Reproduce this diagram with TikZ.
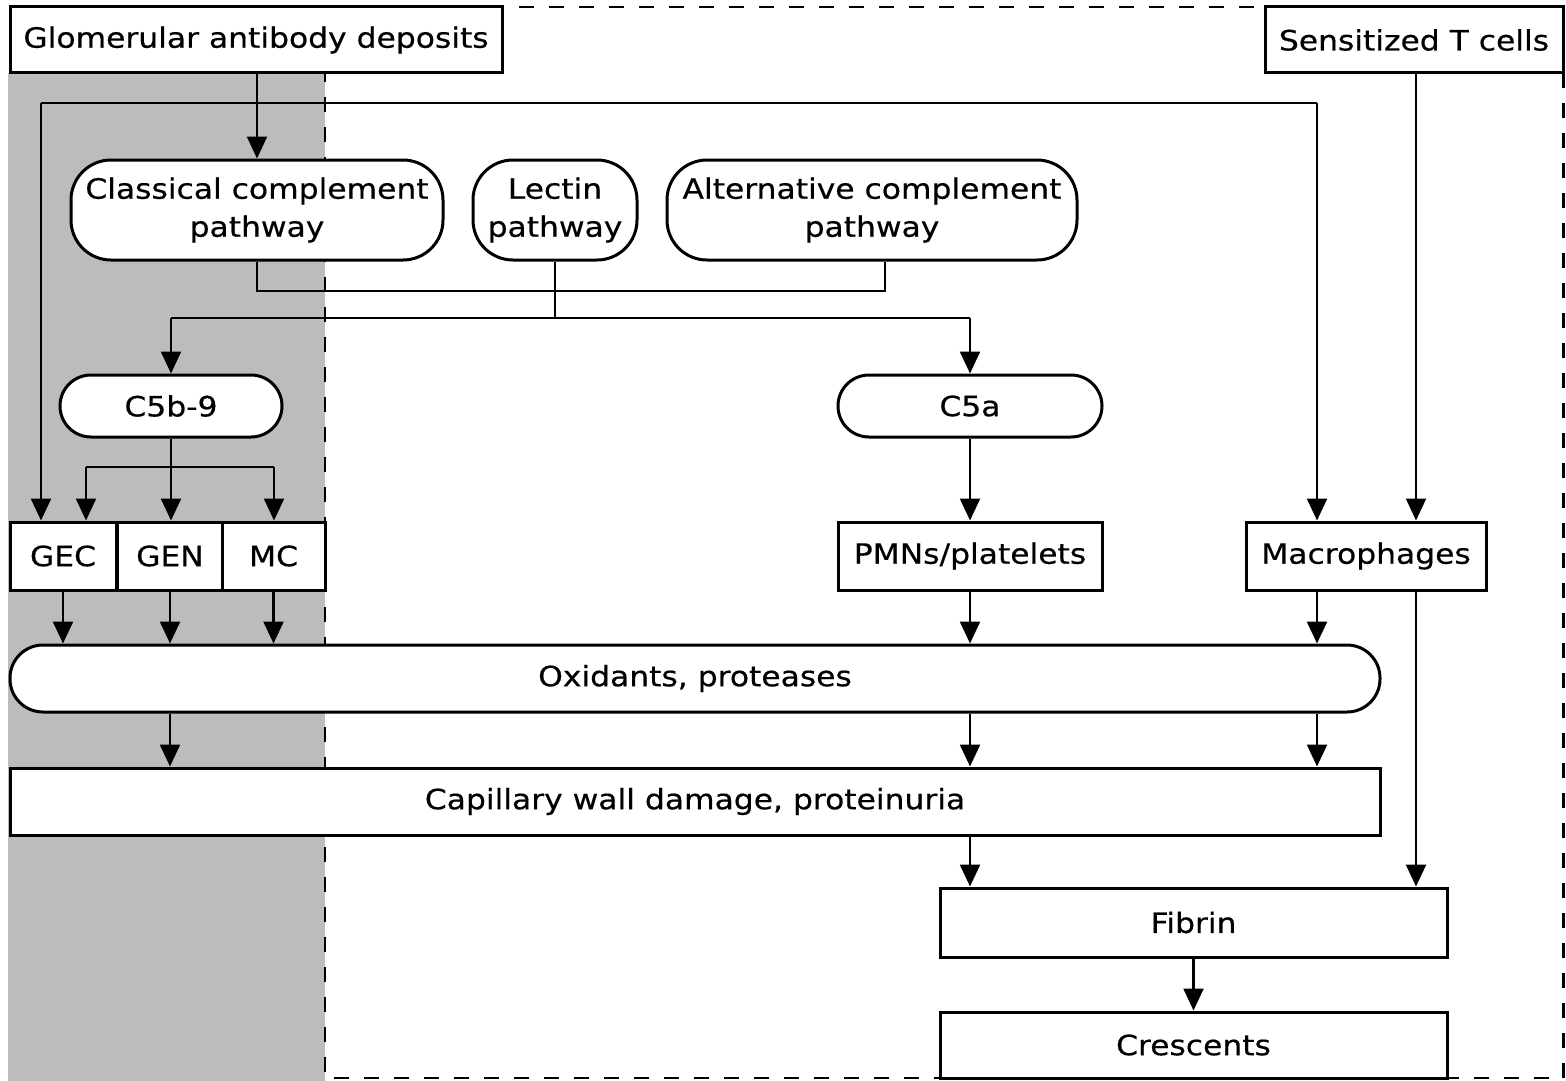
\documentclass[tikz,border=0pt]{standalone}
\usepackage{fontspec}
\setmainfont[FakeStretch=1.12,FakeBold=0.5]{DejaVu Sans}
\usetikzlibrary{arrows.meta,calc}
\definecolor{graybg}{HTML}{BCBCBC}
\begin{document}
\begin{tikzpicture}[x=1pt,y=-1pt,
  box/.style={draw, line width=3pt, fill=white, inner sep=0pt, align=center,
    font=\fontsize{28}{38}\selectfont},
  pill/.style={box, rounded corners=#1},
  pill/.default=31pt,
  arr/.style={line width=2.4pt, -{Triangle[width=20pt,length=22pt]}},
  ln/.style={line width=2.4pt}]
\useasboundingbox (0,0) rectangle (1566,1081);
% background regions
\fill[graybg] (8,73) rectangle (325,1081);
\draw[line width=2.6pt, dash pattern=on 15pt off 15pt] (325,7) rectangle (1563.5,1078);
% nodes
\node[box, minimum width=492pt, minimum height=66pt] (glom) at (256,40) {Glomerular antibody deposits};
\node[box, minimum width=298pt, minimum height=66pt] (tcell) at (1414,40) {Sensitized T cells};
\node[pill=40pt, minimum width=372pt, minimum height=100pt] (classical) at (257,210) {Classical complement\\pathway};
\node[pill=40pt, minimum width=164pt, minimum height=100pt] (lectin) at (555,210) {Lectin\\pathway};
\node[pill=40pt, minimum width=410pt, minimum height=100pt] (alt) at (872,210) {Alternative complement\\pathway};
\node[pill, minimum width=222pt, minimum height=62pt] (c5b) at (171,406) {C5b-9};
\node[pill, minimum width=264pt, minimum height=62pt] (c5a) at (970,406) {C5a};
\node[box, minimum width=106pt, minimum height=68pt] (gec) at (63,556) {GEC};
\node[box, minimum width=106pt, minimum height=68pt] (gen) at (170,556) {GEN};
\node[box, minimum width=103pt, minimum height=68pt] (mc) at (273.5,556) {MC};
\node[box, minimum width=264pt, minimum height=68pt] (pmn) at (970,556) {PMNs/platelets};
\node[box, minimum width=240pt, minimum height=68pt] (mac) at (1366,556) {Macrophages};
\node[pill=33pt, minimum width=1370pt, minimum height=67pt] (ox) at (695,678.5) {Oxidants, proteases};
\node[box, minimum width=1370pt, minimum height=67pt] (cap) at (695,801.5) {Capillary wall damage, proteinuria};
\node[box, minimum width=507pt, minimum height=69pt] (fib) at (1193.5,922.5) {Fibrin};
\node[box, minimum width=507pt, minimum height=66pt] (cres) at (1193.5,1045) {Crescents};
% helper coordinates
\coordinate (cA) at (41,103);
\coordinate (cB) at (1317,103);
\coordinate (j1) at (885,291);
\coordinate (j2) at (555,318);
\coordinate (k1) at (86,467);
\coordinate (k2) at (274,467);
\coordinate (t) at (1416,0);
% connectors
\draw[arr] (glom.south -| classical.north) -- (classical.north);
\draw[ln] (cA) -- (cB);
\draw[arr] (cA) -- (gec.north -| cA);
\draw[arr] (cB) -- (mac.north -| cB);
\draw[arr] (tcell.south -| t) -- (mac.north -| t);
\draw[ln] (classical.south) -- (classical.south |- j1) -- (j1) -- (alt.south -| j1);
\draw[ln] (lectin.south) -- (j2);
\draw[ln] (c5b.north |- j2) -- (c5a.north |- j2);
\draw[arr] (c5b.north |- j2) -- (c5b.north);
\draw[arr] (c5a.north |- j2) -- (c5a.north);
\draw[arr] (c5b.south) -- (gen.north -| c5b.south);
\draw[ln] (k1) -- (k2);
\draw[arr] (k1) -- (gec.north -| k1);
\draw[arr] (k2) -- (mc.north -| k2);
\draw[arr] (c5a.south) -- (pmn.north);
\draw[arr] (gec.south) -- (ox.north -| gec.south);
\draw[arr] (gen.south) -- (ox.north -| gen.south);
\draw[arr] (mc.south) -- (ox.north -| mc.south);
\draw[arr] (pmn.south) -- (ox.north -| pmn.south);
\draw[arr] (mac.south -| cB) -- (ox.north -| cB);
\draw[arr] (ox.south -| gen.south) -- (cap.north -| gen.south);
\draw[arr] (ox.south -| pmn.south) -- (cap.north -| pmn.south);
\draw[arr] (ox.south -| cB) -- (cap.north -| cB);
\draw[arr] (cap.south -| pmn.south) -- (fib.north -| pmn.south);
\draw[arr] (mac.south -| t) -- (fib.north -| t);
\draw[arr] (fib.south) -- (cres.north);
\end{tikzpicture}
\end{document}
